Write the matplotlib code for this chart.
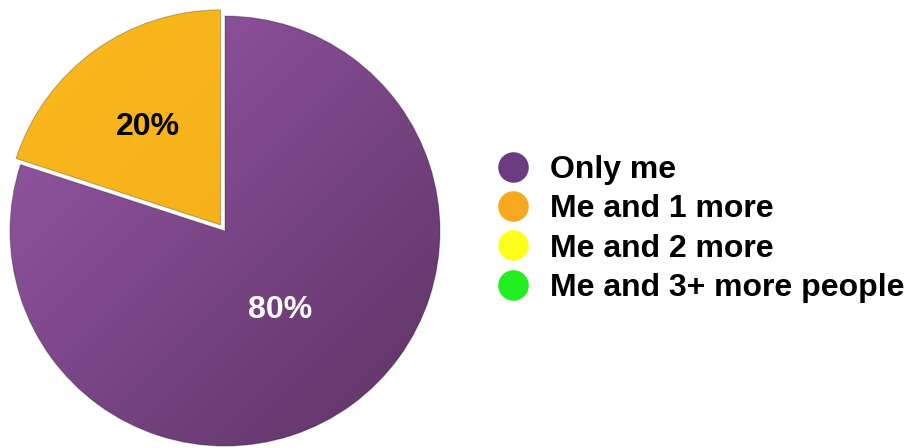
import numpy as np
import matplotlib.pyplot as plt
from matplotlib.lines import Line2D
from matplotlib.colors import LinearSegmentedColormap

# Survey answers and their shares (percent)
categories = ["Only me", "Me and 1 more", "Me and 2 more", "Me and 3+ more people"]
shares = [80, 20, 0, 0]
legend_colors = ["#6c3b80", "#f6a81f", "#ffff1c", "#20ef20"]
# light -> dark shading used to fill each slice
slice_gradients = {
    "Only me": ("#9d5cae", "#58305f"),
    "Me and 1 more": ("#fcbb1e", "#f0a714"),
}
label_colors = {"Only me": "white", "Me and 1 more": "black"}

plt.rcParams['font.family'] = ['Liberation Sans', 'DejaVu Sans']

fig = plt.figure(figsize=(9.09, 4.48), dpi=100)
ax = fig.add_axes([0, 0, 450 / 909, 1])

drawn = [(c, v) for c, v in zip(categories, shares) if v > 0]
explode = [0.0 if c == "Only me" else 0.035 for c, _ in drawn]
wedges, _ = ax.pie([v for _, v in drawn], explode=explode, startangle=90,
                   counterclock=False, radius=1, center=(0, 0),
                   wedgeprops=dict(edgecolor='none'), frame=True)

# diagonal shading, lighter at top-left, darker at bottom-right
ext = 1.15
yy, xx = np.mgrid[ext:-ext:400j, -ext:ext:400j]
t = np.clip((xx - yy) / (2 * ext) * 0.5 + 0.5, 0, 1)

for wedge, (cat, val) in zip(wedges, drawn):
    light, dark = slice_gradients[cat]
    cmap = LinearSegmentedColormap.from_list(cat, [light, dark])
    wedge.set_facecolor('none')
    im = ax.imshow(t, extent=(-ext, ext, -ext, ext), cmap=cmap, vmin=0, vmax=1,
                   origin='upper', interpolation='bilinear', zorder=1)
    im.set_clip_path(wedge)
    wedge.set_zorder(2)
    wedge.set_edgecolor((0, 0, 0, 0.25))
    wedge.set_linewidth(0.8)

    mid = np.deg2rad((wedge.theta1 + wedge.theta2) / 2)
    r = 0.44 if cat == "Only me" else 0.575
    cx, cy = wedge.center
    ax.text(cx + r * np.cos(mid), cy + r * np.sin(mid) - 0.01, f"{val}%",
            ha='center', va='center', fontsize=23, fontweight='bold',
            color=label_colors[cat], zorder=3)

ax.set_aspect('auto')
ax.set_xlim(-1.0465, 1.0465)
ax.set_ylim(-1.009, 1.0744)
ax.axis('off')

handles = [Line2D([], [], marker='o', ls='none', markersize=22,
                  markerfacecolor=col, markeredgecolor='none')
           for col in legend_colors]
fig.legend(handles=handles, labels=categories, loc='center left',
           bbox_to_anchor=(491 / 909, 1 - 229 / 448), frameon=False,
           prop=dict(weight='bold', size=23), handlelength=1.4,
           handletextpad=0.45, labelspacing=0.29, borderpad=0,
           borderaxespad=0)

fig.savefig("out.png", dpi=100, facecolor='white')
